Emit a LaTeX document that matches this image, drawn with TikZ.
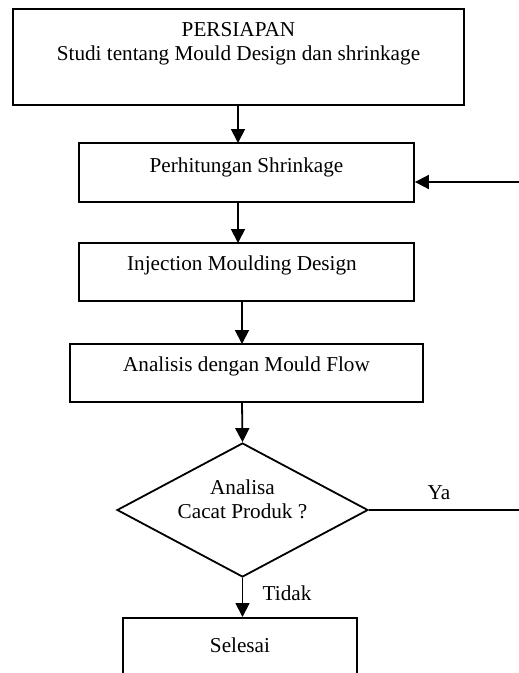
\documentclass[tikz,border=0pt]{standalone}
\usepackage{fontspec}
\setmainfont{Liberation Serif}
\usetikzlibrary{arrows.meta,shapes.geometric}
\begin{document}
\begin{tikzpicture}[x=1pt,y=-1pt,
  box/.style={draw,line width=1.8pt,rectangle,inner sep=0pt},
  txt/.style={font=\fontsize{21.2}{24}\selectfont,inner sep=0pt,align=center},
  arr/.style={line width=1.8pt,-{Triangle[length=14pt,width=14pt]}},
  ln/.style={line width=1.8pt}]
\useasboundingbox (0,0) rectangle (519,673);
\clip (0,0) rectangle (519,673);
% boxes
\node[box,minimum width=451pt,minimum height=96pt] (b1) at (238.5,57) {};
\node[txt] (t1) at (238.5,44) {PERSIAPAN\\Studi tentang Mould Design dan shrinkage};
\node[box,minimum width=335pt,minimum height=59pt] (b2) at (246.5,172.5) {};
\node[txt] (t2) at (246.5,167) {Perhitungan Shrinkage};
\node[box,minimum width=335pt,minimum height=58pt] (b3) at (246.5,272) {};
\node[txt] (t3) at (242,265) {Injection Moulding\ Design};
\node[box,minimum width=353pt,minimum height=58pt] (b4) at (246.5,373) {};
\node[txt] (t4) at (246.5,366) {Analisis dengan Mould Flow};
\node[draw,line width=1.8pt,diamond,inner sep=0pt,minimum width=251pt,minimum height=134pt,aspect=1.87] (d) at (242.5,510) {};
\node[txt] (t5) at (242.5,499) {Analisa\\Cacat Produk ?};
\node[box,minimum width=234pt,minimum height=120pt,anchor=north] (b5) at (240,617) {};
\node[txt] (t6) at (240,645) {Selesai};
\node[txt] (ya) at (439,493) {Ya};
\node[txt] (td) at (287,593) {Tidak};
\coordinate (r1) at (522,182);
\coordinate (r2) at (522,510);
% connectors
\draw[arr] (238,105) -- (238,143);
\draw[arr] (238,202) -- (238,243);
\draw[arr] (242,301) -- (242,344);
\draw[arr] (242,402) -- (d.north);
\draw[arr] (d.south) -- (b5.north -| d.south);
\draw[ln] (d.east) -- (r2);
\draw[arr] (r1) -- (b2.east |- r1);
\end{tikzpicture}
\end{document}
